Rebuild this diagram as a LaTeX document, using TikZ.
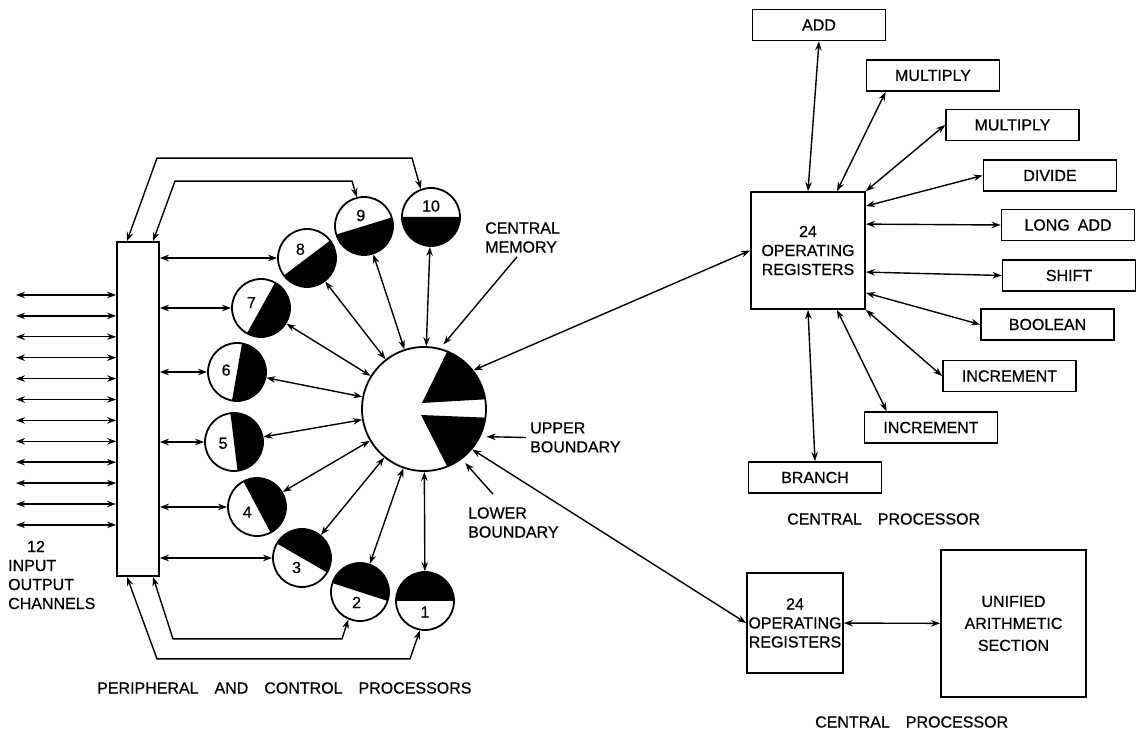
\documentclass[tikz,border=0pt]{standalone}
\usepackage{fontspec}
\setmainfont{Liberation Sans}[FakeBold=0.7]
\usetikzlibrary{arrows.meta}

\tikzset{
  unit/.style={draw, line width=1.8pt, minimum width=133pt, minimum height=31pt, inner sep=0pt},
  regs/.style={draw, line width=1.8pt, align=center, inner sep=0pt},
  proc/.style={draw, circle, line width=1.8pt, minimum size=58pt, inner sep=0pt},
  link/.style={<->, line width=1.4pt},
  lead/.style={->, line width=1.4pt},
  lbl/.style={align=left, anchor=west, inner sep=0pt}
}

\begin{document}
\begin{tikzpicture}[x=1pt, y=1pt, >={Stealth[length=9pt,width=6.5pt]}, font=\fontsize{16}{19}\selectfont]
\useasboundingbox (0,0) rectangle (1136,734);

% peripheral side
\node[draw, line width=1.8pt, minimum width=42pt, minimum height=334pt, inner sep=0pt] (bar) at (138,325) {};
\foreach \i in {0,...,11}{
  \coordinate (io\i) at (16,439-20.9*\i);
  \draw[link] (io\i) -- (io\i -| bar.west);
}
\node[lbl] (iolbl) at (8,159) {\hspace*{19pt}12\\INPUT\\OUTPUT\\CHANNELS};

% central memory
\node[draw, circle, line width=1.8pt, minimum size=124pt, inner sep=0pt] (cm) at (424,325) {};
\fill ([shift={(-2,6)}]cm.center) -- ([shift={(68:62)}]cm.center)
      arc[start angle=68, end angle=9, radius=62] -- cycle;
\fill ([shift={(-3,-6)}]cm.center) -- ([shift={(-8:62)}]cm.center)
      arc[start angle=-8, end angle=-68, radius=62] -- cycle;

% the ten processors
\foreach \k/\x/\y/\ang in {1/425/133/0, 2/360/142/-18, 3/302/176/-30, 4/257/227/-62,
    5/234/292/-83, 6/237/362/-100, 7/261/426/-119, 8/307/476/-143,
    9/364/508/-163, 10/431/517/-180}{
  \node[proc] (p\k) at (\x,\y) {};
  \fill ([shift={(\ang:29)}]p\k.center) arc[start angle=\ang, end angle=\ang+180, radius=29] -- cycle;
  \node[inner sep=0pt] (n\k) at ([shift={(\ang-90:11)}]p\k.center) {\k};
  \draw[link] (p\k) -- (cm);
}
\foreach \k in {3,...,8}
  \draw[link] (bar.east |- p\k) -- (p\k);

\draw[link] ([xshift=-11]bar.north) -- ++(30,83) -- ++(255,0) -- (p10.110);
\draw[link] ([xshift=15]bar.north) -- ++(22,60) -- ++(177,0) -- (p9.104);
\draw[link] ([xshift=15]bar.south) -- ++(20,-62) -- ++(169,0) -- (p2.247);
\draw[link] ([xshift=-11]bar.south) -- ++(30,-82) -- ++(253,0) -- (p1.260);

\node[lbl] (pcp) at (97,46) {PERIPHERAL\quad AND\quad CONTROL\quad PROCESSORS};

\node[lbl] (cmlbl) at (485,496.5) {CENTRAL\\MEMORY};
\draw[lead, shorten >=5pt] ([shift={(32,-4)}]cmlbl.south west) -- (cm.75);
\node[lbl] (ublbl) at (530,296.5) {UPPER\\BOUNDARY};
\draw[lead, shorten >=6pt] ([xshift=-4]ublbl.west) -- (cm.-26);
\node[lbl] (lblbl) at (468,211.5) {LOWER\\BOUNDARY};
\draw[lead, shorten >=5pt] ([shift={(25,13)}]lblbl.north west) -- (cm.-53);

% central processor with functional units
\node[regs, minimum width=114pt, minimum height=117pt] (or1) at (808,483.5) {24\\OPERATING\\REGISTERS};
\node[unit] (add) at (819,709) {ADD};
\node[unit] (mulA) at (933,658.5) {MULTIPLY};
\node[unit] (mulB) at (1012.5,609) {MULTIPLY};
\node[unit] (divide) at (1050,558.5) {DIVIDE};
\node[unit] (longadd) at (1068,509) {LONG\enspace ADD};
\node[unit] (shiftu) at (1069,458.5) {SHIFT};
\node[unit] (boolean) at (1047.5,409.5) {BOOLEAN};
\node[unit] (incA) at (1009.5,358) {INCREMENT};
\node[unit] (incB) at (931,306.5) {INCREMENT};
\node[unit] (branch) at (815,256.5) {BRANCH};
\node[lbl] (cpA) at (787,215) {CENTRAL\quad PROCESSOR};

\draw[link] (cm.38) -- (or1.west);
\draw[link] (or1.north) -- (add.south);
\draw[link] ([xshift=29]or1.north) -- ([xshift=20]mulA.south west);
\draw[link] (or1.north east) -- (mulB.west);
\draw[link] ([yshift=-15]or1.north east) -- (divide.west);
\draw[link] ([yshift=-33]or1.north east) -- (longadd.west);
\draw[link] ([yshift=-81]or1.north east) -- (shiftu.west);
\draw[link] ([yshift=17]or1.south east) -- (boolean.west);
\draw[link] (or1.south east) -- (incA.west);
\draw[link] ([xshift=29]or1.south) -- ([xshift=23]incB.north west);
\draw[link] (or1.south) -- (branch.north);

% central processor with unified arithmetic
\node[regs, minimum width=96pt, minimum height=100pt] (or2) at (795,111) {24\\OPERATING\\REGISTERS};
\node[regs, minimum width=145pt, minimum height=147pt] (uas) at (1013.5,110.5) {UNIFIED\\[3pt]ARITHMETIC\\[3pt]SECTION};
\node[lbl] (cpB) at (815,12) {CENTRAL\quad PROCESSOR};
\draw[link] (cm.-40) -- (or2.west);
\draw[link] (or2) -- (uas);
\end{tikzpicture}
\end{document}
